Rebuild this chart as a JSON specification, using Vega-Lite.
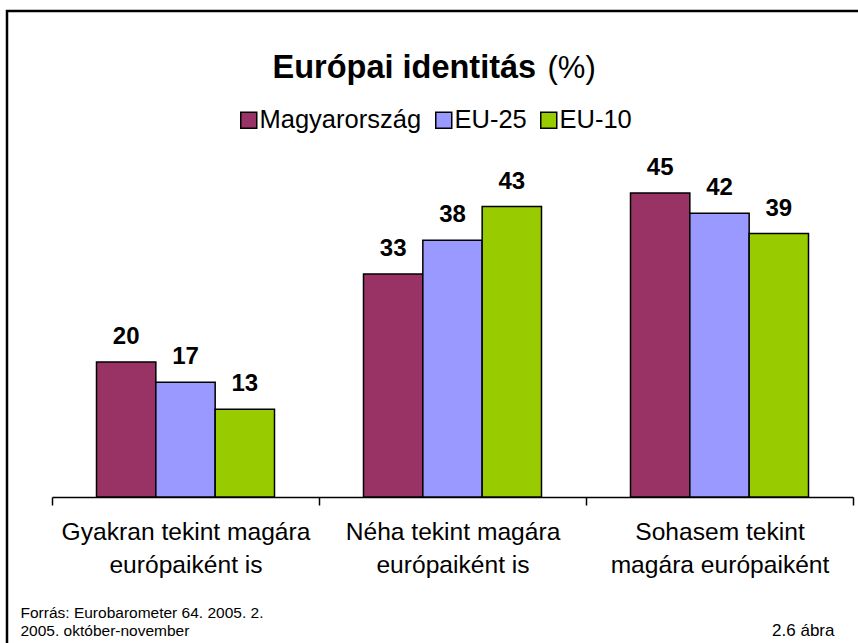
{
  "$schema": "https://vega.github.io/schema/vega-lite/v6.json",
  "width": 856,
  "height": 640,
  "autosize": {"type": "none"},
  "padding": {"left": 7, "top": 11, "right": 0, "bottom": 0},
  "background": "white",
  "config": {
    "view": {"stroke": "black", "strokeWidth": 2.5},
    "font": "Liberation Sans",
    "axis": {"grid": false}
  },
  "data": {
    "values": [
      {"category": "Gyakran tekint magára\neurópaiként is", "series": "Magyarország", "value": 20},
      {"category": "Gyakran tekint magára\neurópaiként is", "series": "EU-25", "value": 17},
      {"category": "Gyakran tekint magára\neurópaiként is", "series": "EU-10", "value": 13},
      {"category": "Néha tekint magára\neurópaiként is", "series": "Magyarország", "value": 33},
      {"category": "Néha tekint magára\neurópaiként is", "series": "EU-25", "value": 38},
      {"category": "Néha tekint magára\neurópaiként is", "series": "EU-10", "value": 43},
      {"category": "Sohasem tekint\nmagára európaiként", "series": "Magyarország", "value": 45},
      {"category": "Sohasem tekint\nmagára európaiként", "series": "EU-25", "value": 42},
      {"category": "Sohasem tekint\nmagára európaiként", "series": "EU-10", "value": 39}
    ]
  },
  "layer": [
    {
      "mark": {"type": "bar", "stroke": "black", "strokeWidth": 1.5},
      "encoding": {
        "x": {
          "field": "category", "type": "nominal",
          "sort": ["Gyakran tekint magára\neurópaiként is", "Néha tekint magára\neurópaiként is", "Sohasem tekint\nmagára európaiként"],
          "scale": {"range": [45, 846], "paddingInner": 0, "paddingOuter": 0},
          "axis": {
            "orient": "bottom", "offset": -154,
            "domainColor": "black", "domainWidth": 1.5,
            "tickBand": "extent", "tickColor": "black", "tickWidth": 1.5, "tickSize": 8,
            "labelAngle": 0, "labelFontSize": 24.6, "labelColor": "black", "labelLineHeight": 32.5,
            "labelPadding": 15.5, "labelLimit": 0,
            "labelExpr": "split(datum.label, '\\n')",
            "title": ["Forrás: Eurobarometer 64. 2005. 2.", "2005. október-november"],
            "titleFontSize": 15.5, "titleFontWeight": "normal", "titleColor": "black",
            "titleX": 13, "titleY": 120, "titleAlign": "left", "titleBaseline": "alphabetic",
            "titleLineHeight": 18.5, "titleAngle": 0
          }
        },
        "xOffset": {
          "field": "series", "type": "nominal",
          "sort": ["Magyarország", "EU-25", "EU-10"],
          "scale": {"paddingOuter": 0.75, "paddingInner": 0}
        },
        "y": {
          "field": "value", "type": "quantitative",
          "scale": {"domain": [0, 45], "range": [486, 182], "nice": false, "zero": true},
          "axis": {
            "orient": "left", "domain": false, "ticks": false, "labels": false, "grid": false,
            "title": "(%)", "titleAngle": 0, "titleX": 540, "titleY": 66,
            "titleAlign": "left", "titleBaseline": "alphabetic",
            "titleFontSize": 31, "titleFontWeight": "normal", "titleColor": "black"
          }
        },
        "color": {
          "field": "series", "type": "nominal",
          "sort": ["Magyarország", "EU-25", "EU-10"],
          "scale": {"domain": ["Magyarország", "EU-25", "EU-10"], "range": ["#993366", "#9999FF", "#99CC00"]},
          "legend": {
            "orient": "none", "legendX": 229, "legendY": 96, "direction": "horizontal",
            "title": null, "symbolType": "square", "symbolSize": 256,
            "symbolStrokeColor": "black", "symbolStrokeWidth": 1.5,
            "labelFontSize": 25.5, "labelColor": "black", "labelOffset": -2, "labelLimit": 400,
            "columnPadding": 9
          }
        }
      }
    },
    {
      "mark": {"type": "text", "dy": -18, "baseline": "alphabetic", "fontSize": 24, "fontWeight": "bold", "color": "black"},
      "encoding": {
        "text": {"field": "value", "type": "quantitative"},
        "x": {
          "field": "category", "type": "nominal",
          "sort": ["Gyakran tekint magára\neurópaiként is", "Néha tekint magára\neurópaiként is", "Sohasem tekint\nmagára európaiként"],
          "scale": {"range": [45, 846], "paddingInner": 0, "paddingOuter": 0},
          "axis": {
            "orient": "top", "offset": 0, "domain": false, "ticks": false, "labels": false,
            "title": "Európai identitás", "titleFontSize": 32.5, "titleFontWeight": "bold", "titleColor": "black",
            "titleX": 265, "titleY": 66, "titleAlign": "left", "titleBaseline": "alphabetic", "titleAngle": 0
          }
        },
        "xOffset": {
          "field": "series", "type": "nominal",
          "sort": ["Magyarország", "EU-25", "EU-10"],
          "scale": {"paddingOuter": 0.75, "paddingInner": 0}
        },
        "y": {
          "field": "value", "type": "quantitative",
          "scale": {"domain": [0, 45], "range": [486, 182], "nice": false, "zero": true},
          "axis": {
            "orient": "right", "domain": false, "ticks": false, "labels": false, "grid": false,
            "title": "2.6 ábra", "titleAngle": 0, "titleX": -29, "titleY": 624,
            "titleAlign": "right", "titleBaseline": "alphabetic",
            "titleFontSize": 17, "titleFontWeight": "normal", "titleColor": "black"
          }
        }
      }
    }
  ],
  "resolve": {"axis": {"x": "independent", "y": "independent"}}
}
